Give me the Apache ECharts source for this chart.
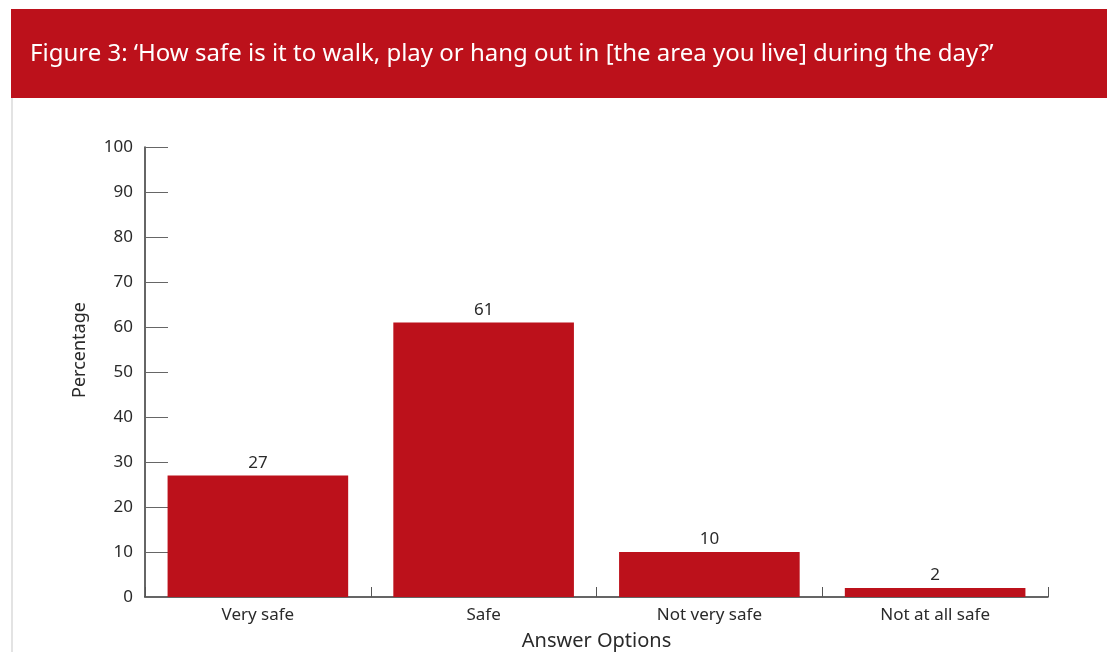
<!DOCTYPE html>
<html>
<head>
<meta charset="utf-8">
<script src="https://cdn.jsdelivr.net/npm/echarts@6/dist/echarts.min.js"></script>
<style>
  html, body { margin: 0; padding: 0; background: #fff; }
  #chart { width: 1107px; height: 652px; }
</style>
</head>
<body>
<div id="chart"></div>
<script>
const categories = ['Very safe', 'Safe', 'Not very safe', 'Not at all safe'];
const values = [27, 61, 10, 2];
const titleText = 'Figure 3: \u2018How safe is it to walk, play or hang out in [the area you live] during the day?\u2019';

let chart = echarts.init(document.getElementById('chart'));
let option = {
  backgroundColor: '#fff',
  textStyle: { fontFamily: 'Noto Sans' },
  graphic: [
    // 红色标题栏
    {
      type: 'rect',
      shape: { x: 11, y: 9, width: 1096, height: 89 },
      style: { fill: '#bc111b' },
      silent: true
    },
    {
      type: 'text',
      left: 30,
      top: 42,
      style: {
        text: titleText,
        fill: '#fff',
        font: '24px "Noto Sans"'
      }
    },
    // 左侧灰色边线
    {
      type: 'rect',
      shape: { x: 11, y: 98, width: 2, height: 554 },
      style: { fill: '#e3e3e3' },
      silent: true
    }
  ],
  grid: {
    left: 145,
    right: 59,
    top: 147,
    bottom: 55,
    outerBoundsMode: 'none'
  },
  xAxis: {
    type: 'category',
    data: categories,
    name: 'Answer Options',
    nameLocation: 'middle',
    nameGap: 34,
    nameTextStyle: { color: '#2a2a2a', fontSize: 20 },
    axisLine: { lineStyle: { color: '#333', width: 1.5 } },
    axisTick: { show: true, inside: true, length: 10, lineStyle: { color: '#555' } },
    axisLabel: { color: '#2a2a2a', fontSize: 17, margin: 10 }
  },
  yAxis: {
    type: 'value',
    min: 0,
    max: 100,
    interval: 10,
    name: 'Percentage',
    nameLocation: 'middle',
    nameGap: 56,
    nameTextStyle: { color: '#2a2a2a', fontSize: 18, padding: [0, 0, 0, 44] },
    axisLine: { show: true, lineStyle: { color: '#333', width: 1.5 } },
    axisTick: { show: true, inside: true, length: 23, lineStyle: { color: '#666' } },
    axisLabel: { color: '#2a2a2a', fontSize: 17, margin: 12 },
    splitLine: { show: false }
  },
  series: [
    {
      type: 'bar',
      data: values,
      barWidth: '80%',
      itemStyle: { color: '#bc111b' },
      label: {
        show: true,
        position: 'top',
        color: '#2a2a2a',
        fontSize: 17,
        distance: 4
      }
    }
  ]
};
chart.setOption(option);
</script>
</body>
</html>
